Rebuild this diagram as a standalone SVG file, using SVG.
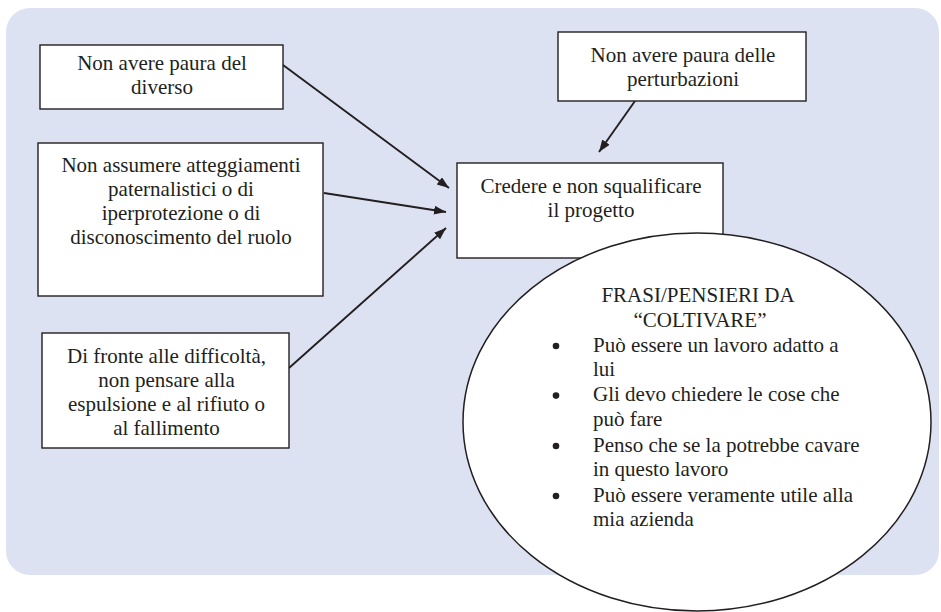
<svg xmlns="http://www.w3.org/2000/svg" width="941" height="612" viewBox="0 0 941 612">
  <style>
    .box { fill: #ffffff; stroke: #231f20; stroke-width: 1.4; }
    .lbl { font-family: 'Liberation Serif', 'Tinos', 'DejaVu Serif', 'Noto Serif', serif; font-size: 21px; fill: #231f20; }
    .mid { text-anchor: middle; }
    .link { stroke: #231f20; stroke-width: 1.9; fill: none; marker-end: url(#head); }
  </style>
  <defs>
    <marker id="head" markerUnits="userSpaceOnUse" markerWidth="14" markerHeight="10" refX="12" refY="4.5" orient="auto">
      <path d="M0,0 L12,4.5 L0,9 Z" fill="#231f20"/>
    </marker>
  </defs>

  <!-- backdrop panel -->
  <rect x="6" y="8" width="933" height="567" rx="24" ry="24" fill="#dde2f2"/>

  <!-- connectors -->
  <g id="connectors">
    <line class="link" x1="283" y1="65" x2="449" y2="188"/>
    <line class="link" x1="324" y1="193" x2="446" y2="212"/>
    <line class="link" x1="289" y1="368" x2="446" y2="228"/>
    <line class="link" x1="635" y1="101" x2="599" y2="152"/>
  </g>

  <g id="n-diverso">
    <rect class="box" x="40" y="45" width="243" height="64"/>
    <text class="lbl mid" x="162" y="70">Non avere paura del</text>
    <text class="lbl mid" x="162" y="94">diverso</text>
  </g>

  <g id="n-paternalismo">
    <rect class="box" x="38" y="143" width="285" height="153"/>
    <text class="lbl mid" x="181" y="171.5">Non assumere atteggiamenti</text>
    <text class="lbl mid" x="181" y="195.8">paternalistici o di</text>
    <text class="lbl mid" x="181" y="220.1">iperprotezione o di</text>
    <text class="lbl mid" x="181" y="244.4">disconoscimento del ruolo</text>
  </g>

  <g id="n-difficolta">
    <rect class="box" x="42" y="333" width="247" height="115"/>
    <text class="lbl mid" x="166.5" y="363.3">Di fronte alle difficoltà,</text>
    <text class="lbl mid" x="166.5" y="387.3">non pensare alla</text>
    <text class="lbl mid" x="166.5" y="411.3">espulsione e al rifiuto o</text>
    <text class="lbl mid" x="166.5" y="435.3">al fallimento</text>
  </g>

  <g id="n-perturbazioni">
    <rect class="box" x="558" y="32" width="248" height="69"/>
    <text class="lbl mid" x="683" y="62">Non avere paura delle</text>
    <text class="lbl mid" x="683" y="86">perturbazioni</text>
  </g>

  <g id="n-credere">
    <rect class="box" x="457" y="163" width="266" height="95"/>
    <text class="lbl mid" x="591" y="193">Credere e non squalificare</text>
    <text class="lbl mid" x="591" y="217">il progetto</text>
  </g>

  <g id="n-frasi">
    <ellipse cx="697" cy="422" rx="234" ry="189" fill="#ffffff" stroke="#231f20" stroke-width="1.5"/>
    <text class="lbl mid" x="698" y="302">FRASI/PENSIERI DA</text>
    <text class="lbl mid" x="700" y="327">“COLTIVARE”</text>
    <!-- list bullets -->
    <g fill="#231f20">
      <circle cx="556" cy="346" r="3.3"/>
      <circle cx="556" cy="395.6" r="3.3"/>
      <circle cx="556" cy="446" r="3.3"/>
      <circle cx="556" cy="496" r="3.3"/>
    </g>
    <g class="lbl">
      <text x="593" y="351.7">Può essere un lavoro adatto a</text>
      <text x="593" y="376.3">lui</text>
      <text x="593" y="401.3">Gli devo chiedere le cose che</text>
      <text x="593" y="426">può fare</text>
      <text x="593" y="451.7">Penso che se la potrebbe cavare</text>
      <text x="593" y="476">in questo lavoro</text>
      <text x="593" y="501.7">Può essere veramente utile alla</text>
      <text x="593" y="526">mia azienda</text>
    </g>
  </g>
</svg>
